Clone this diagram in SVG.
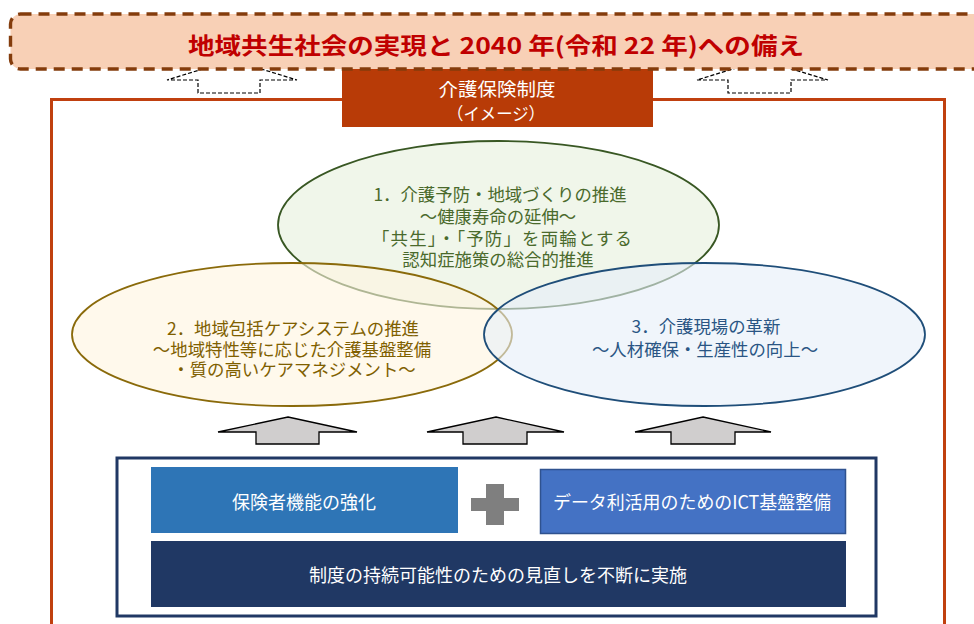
<svg xmlns="http://www.w3.org/2000/svg" width="974" height="624" viewBox="0 0 974 624">
<style>
.t{font-family:"Noto Sans CJK JP","Noto Sans",sans-serif;}
.c{text-anchor:middle;dominant-baseline:central;}
.dash-arrow{fill:#FFFFFF;stroke:#000000;stroke-width:1.2;stroke-dasharray:4 2;}
.gray-arrow{fill:#D0CECE;stroke:#000000;stroke-width:1.3;stroke-linejoin:miter;}
.etxt{font-size:17.4px;}
.btxt{font-size:18px;fill:#FFFFFF;}
</style>
<rect width="974" height="624" fill="#FFFFFF"/>

<g id="frame">
  <rect x="51.5" y="99.5" width="893" height="540" fill="#FFFFFF" stroke="#C0400F" stroke-width="3"/>
</g>

<g id="connectors">
  <polygon class="dash-arrow" points="232,60 297,80 260,80 260,93 198,93 198,80 167,80"/>
  <polygon class="dash-arrow" points="762,60 828,80 791,80 791,93 728,93 728,80 697,80"/>
  <polygon class="gray-arrow" points="288,417 357,432 319,432 319,444 256,444 256,432 218,432"/>
  <polygon class="gray-arrow" points="496,417 564,432 527,432 527,444 463,444 463,432 427,432"/>
  <polygon class="gray-arrow" points="703,417 771,432 735,432 735,444 671,444 671,432 635,432"/>
</g>

<g id="system-label">
  <rect x="342" y="62" width="311" height="65" fill="#B83B07"/>
  <text class="t c" x="497" y="88" font-size="18.5" fill="#FFFFFF" textLength="117" lengthAdjust="spacingAndGlyphs">介護保険制度</text>
  <text class="t c" x="496" y="112" font-size="17" fill="#FFFFFF" textLength="98" lengthAdjust="spacingAndGlyphs">（イメージ）</text>
</g>

<g id="goal-banner">
  <rect x="10.5" y="14" width="990" height="55" rx="10" ry="10" fill="#F8D0B6" stroke="#843C0C" stroke-width="3.4" stroke-dasharray="11 7"/>
  <text class="t c" x="496" y="44" font-size="23" font-weight="bold" fill="#C00000" textLength="616" lengthAdjust="spacingAndGlyphs">地域共生社会の実現と 2040 年(令和 22 年)への備え</text>
</g>

<g id="pillar-1">
  <ellipse cx="498.5" cy="225" rx="220.5" ry="84" fill="#F0F6EA" stroke="#385723" stroke-width="1.8"/>
  <g class="t etxt" fill="#4A6A2C" text-anchor="middle" dominant-baseline="central">
    <text x="500" y="193.5">1．介護予防・地域づくりの推進</text>
    <text x="498" y="215.5">～健康寿命の延伸～</text>
    <text x="502" y="237" textLength="260" lengthAdjust="spacing">「共生」・「予防」を両輪とする</text>
    <text x="498" y="258">認知症施策の総合的推進</text>
  </g>
</g>

<g id="pillar-2">
  <ellipse cx="292" cy="334.5" rx="220" ry="71.5" fill="#FFF5E0" fill-opacity="0.6" stroke="#8A6A0A" stroke-width="1.8"/>
  <g class="t etxt" fill="#7F6000" text-anchor="middle" dominant-baseline="central">
    <text x="293" y="327">2．地域包括ケアシステムの推進</text>
    <text x="292" y="348">～地域特性等に応じた介護基盤整備</text>
    <text x="294" y="368.5">・質の高いケアマネジメント～</text>
  </g>
</g>

<g id="pillar-3">
  <ellipse cx="704.5" cy="334.5" rx="220.5" ry="71.5" fill="#E6EFF8" fill-opacity="0.6" stroke="#1F4E79" stroke-width="1.8"/>
  <g class="t etxt" fill="#2A5584" text-anchor="middle" dominant-baseline="central">
    <text x="706" y="325">3．介護現場の革新</text>
    <text x="705" y="348">～人材確保・生産性の向上～</text>
  </g>
</g>

<g id="foundation">
  <rect x="117" y="458" width="759" height="158" fill="#FFFFFF" stroke="#203864" stroke-width="3"/>
</g>

<g id="insurer-function">
  <rect x="151" y="467" width="307" height="66" fill="#2E75B6"/>
  <text class="t c btxt" x="304" y="501">保険者機能の強化</text>
</g>

<g id="plus">
  <rect x="471" y="498" width="48" height="13" fill="#7F7F7F"/>
  <rect x="486" y="484" width="18" height="41" fill="#7F7F7F"/>
</g>

<g id="ict">
  <rect x="540.5" y="469.5" width="305" height="64" fill="#4472C4" stroke="#2F528F" stroke-width="1.5"/>
  <text class="t c btxt" x="692" y="501" textLength="278" lengthAdjust="spacingAndGlyphs">データ利活用のためのICT基盤整備</text>
</g>

<g id="sustainability">
  <rect x="151" y="541" width="695" height="66" fill="#203864"/>
  <text class="t c btxt" x="498" y="574" textLength="378" lengthAdjust="spacingAndGlyphs">制度の持続可能性のための見直しを不断に実施</text>
</g>
</svg>
